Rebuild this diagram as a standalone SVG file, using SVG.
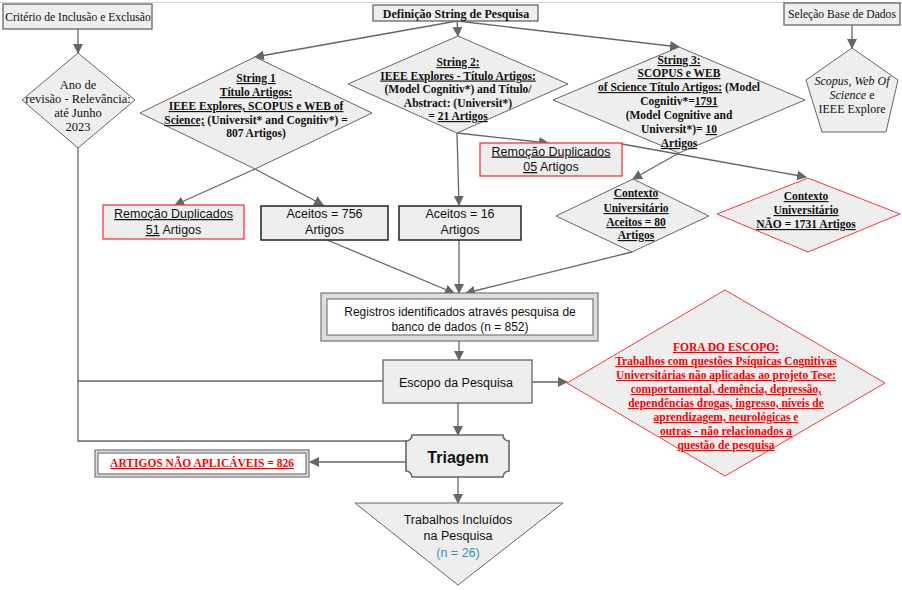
<svg xmlns="http://www.w3.org/2000/svg" width="902" height="590" viewBox="0 0 902 590">
<style>
.box{fill:#eeeeee;stroke:#666;stroke-width:1.3}
.dia{fill:#eeeeee;stroke:#666;stroke-width:1}
.red{fill:#eeeeee;stroke:#f03a3a;stroke-width:1.3}
.blk{fill:#eeeeee;stroke:#222;stroke-width:1.5}
.gry{fill:#dddddd;stroke:#777;stroke-width:1.2}
.wht{fill:#ffffff;stroke:#777;stroke-width:1.2}
.t{font-family:"Liberation Serif","Times New Roman",serif;font-size:12px;fill:#111;text-anchor:middle}
.b{font-weight:bold;font-size:11.5px}
.a{font-family:"Liberation Sans",Arial,sans-serif;font-size:12.5px;fill:#111;text-anchor:middle}
.u{text-decoration:underline}
.rt{fill:#ff0000}
.conn path{stroke:#666;stroke-width:1.3;fill:none}
.conn path.ar{marker-end:url(#arr)}
</style>
<defs>
<marker id="arr" viewBox="0 0 10 10" refX="9" refY="5" markerWidth="10" markerHeight="10" markerUnits="userSpaceOnUse" orient="auto">
<path d="M0,0 L10,5 L0,10 z" fill="#666"/>
</marker>
</defs>
<rect width="902" height="590" fill="#ffffff"/>
<line x1="0" y1="2.5" x2="902" y2="2.5" stroke="#d4d4d4" stroke-width="1"/>

<g class="conn">
<path class="ar" d="M78,29 V53"/>
<path d="M78,148 V441 H407"/>
<path d="M78,381 H383"/>
<path class="ar" d="M457,21 L255,57"/>
<path class="ar" d="M457,21 L458,36"/>
<path class="ar" d="M457,21 L679,47"/>
<path class="ar" d="M852,25 V48"/>
<path class="ar" d="M255,169 L175,205"/>
<path class="ar" d="M255,169 L323,205"/>
<path class="ar" d="M457,133 L459,205"/>
<path class="ar" d="M457,133 L548,143"/>
<path class="ar" d="M679,153 L633,179"/>
<path class="ar" d="M622,144 L806,177"/>
<path class="ar" d="M327,240 L454,293"/>
<path class="ar" d="M459,240 V293"/>
<path class="ar" d="M632,252 L466,293"/>
<path class="ar" d="M459,341 V360"/>
<path class="ar" d="M532,382 H567"/>
<path class="ar" d="M458,403 V435"/>
<path class="ar" d="M406,462 H310"/>
<path class="ar" d="M458,477 V503"/>
</g>

<g id="criterio">
<rect class="box" x="3" y="4" width="149" height="25"/>
<text class="t" x="78" y="21" style="font-size:11.6px">Critério de Inclusão e Exclusão</text>
</g>

<g id="ano">
<polygon class="dia" points="78,53 135,100 78,148 22,100"/>
<text class="t" style="font-size:12.5px"><tspan x="78" y="89">Ano de</tspan><tspan x="78" y="103">revisão - Relevância:</tspan><tspan x="78" y="117">até Junho</tspan><tspan x="78" y="131">2023</tspan></text>
</g>

<g id="definicao">
<rect class="box" x="373" y="5" width="165" height="16"/>
<text class="t" x="456" y="17.5" style="font-weight:bold">Definição String de Pesquisa</text>
</g>

<g id="selecao">
<rect class="box" x="784" y="3" width="116" height="22"/>
<text class="t" x="842" y="18" style="font-size:11.6px">Seleção Base de Dados</text>
</g>

<g id="bases">
<polygon class="dia" points="852,48 898,80 886,132 822,132 806,80"/>
<text class="t"><tspan x="852" y="85" font-style="italic">Scopus, Web Of</tspan><tspan x="852" y="99"><tspan font-style="italic">Science</tspan> e</tspan><tspan x="852" y="113">IEEE Explore</tspan></text>
</g>

<g id="string1">
<polygon class="dia" points="255,57 372,113 255,169 140,113"/>
<text class="t b"><tspan x="256" y="82" class="u">String 1</tspan><tspan x="256" y="96" class="u">Título Artigos:</tspan><tspan x="256" y="110" class="u">IEEE Explores, SCOPUS e WEB of</tspan><tspan x="256" y="124"><tspan class="u">Science;</tspan> (Universit* and Cognitiv*) =</tspan><tspan x="256" y="137">807 Artigos)</tspan></text>
</g>

<g id="string2">
<polygon class="dia" points="458,36 568,84 457,133 348,84"/>
<text class="t b"><tspan x="458" y="66" class="u">String 2:</tspan><tspan x="458" y="79.5" class="u">IEEE Explores - Título Artigos:</tspan><tspan x="458" y="93">(Model Cognitiv*) and Título/</tspan><tspan x="458" y="106.5">Abstract: (Universit*)</tspan><tspan x="458" y="120">= <tspan class="u">21 Artigos</tspan></tspan></text>
</g>

<g id="string3">
<polygon class="dia" points="679,47 805,100 679,153 553,100"/>
<text class="t b"><tspan x="679" y="64" class="u">String 3:</tspan><tspan x="679" y="77" class="u">SCOPUS e WEB</tspan><tspan x="679" y="91"><tspan class="u">of Science Título Artigos:</tspan> (Model</tspan><tspan x="679" y="105">Cognitiv*=<tspan class="u">1791</tspan></tspan><tspan x="679" y="119">(Model Cognitive and</tspan><tspan x="679" y="133">Universit*)= <tspan class="u">10</tspan></tspan><tspan x="679" y="147" class="u">Artigos</tspan></text>
</g>

<g id="remocao51">
<rect class="red" x="103" y="205" width="141" height="34"/>
<text class="a"><tspan x="173.5" y="218" class="u">Remoção Duplicados</tspan><tspan x="173.5" y="234"><tspan class="u">51</tspan> Artigos</tspan></text>
</g>

<g id="aceitos756">
<rect class="blk" x="261" y="206" width="127" height="34"/>
<text class="a"><tspan x="324.5" y="218">Aceitos = 756</tspan><tspan x="324.5" y="234">Artigos</tspan></text>
</g>

<g id="aceitos16">
<rect class="blk" x="399" y="206" width="122" height="34"/>
<text class="a"><tspan x="460" y="218">Aceitos = 16</tspan><tspan x="460" y="234">Artigos</tspan></text>
</g>

<g id="remocao05">
<rect class="red" x="480" y="143" width="142" height="33"/>
<text class="a"><tspan x="551" y="155.5" class="u">Remoção Duplicados</tspan><tspan x="551" y="171"><tspan class="u">05</tspan> Artigos</tspan></text>
</g>

<g id="contexto-aceitos">
<polygon class="dia" points="633,179 709,216 632,252 556,216"/>
<text class="t b u"><tspan x="636" y="197">Contexto</tspan><tspan x="636" y="212">Universitário</tspan><tspan x="636" y="226">Aceitos = 80</tspan><tspan x="636" y="239">Artigos</tspan></text>
</g>

<g id="contexto-nao">
<polygon class="red" style="stroke-width:1" points="808,178 900,214 808,252 717,214"/>
<text class="t b u"><tspan x="806" y="200">Contexto</tspan><tspan x="806" y="214">Universitário</tspan><tspan x="806" y="228">NÃO = 1731 Artigos</tspan></text>
</g>

<g id="registros">
<rect class="gry" x="321" y="293" width="277" height="48"/>
<rect class="wht" x="327" y="299" width="266" height="36"/>
<text class="a" style="font-size:12px"><tspan x="460" y="316">Registros identificados através pesquisa de</tspan><tspan x="460" y="331">banco de dados (n = 852)</tspan></text>
</g>

<g id="escopo">
<rect class="box" x="383" y="360" width="149" height="43"/>
<text class="a" x="456" y="387">Escopo da Pesquisa</text>
</g>

<g id="fora">
<polygon class="red" style="stroke-width:1" points="725,290 885,383 725,476 567,383"/>
<text class="t b u rt"><tspan x="726" y="351">FORA DO ESCOPO:</tspan><tspan x="726" y="365">Trabalhos com questões Psíquicas Cognitivas</tspan><tspan x="726" y="379">Universitárias não aplicadas ao projeto Tese:</tspan><tspan x="726" y="393">comportamental, demência, depressão,</tspan><tspan x="726" y="407">dependências drogas, ingresso, níveis de</tspan><tspan x="726" y="421">aprendizagem, neurológicas e</tspan><tspan x="726" y="435">outras - não relacionados a</tspan><tspan x="726" y="449">questão de pesquisa</tspan></text>
</g>

<g id="triagem">
<path class="box" style="stroke-width:1.6" d="M412,435 H503 A6,6 0 0 0 509,441 V471 A6,6 0 0 0 503,477 H412 A6,6 0 0 0 406,471 V441 A6,6 0 0 0 412,435 Z"/>
<text class="a" x="458" y="463" style="font-size:16px;font-weight:bold">Triagem</text>
</g>

<g id="nao-aplicaveis">
<rect class="gry" x="95" y="450" width="214" height="27"/>
<rect class="wht" x="98" y="453" width="208" height="21"/>
<text class="t b u rt" x="202" y="467">ARTIGOS NÃO APLICÁVEIS = 826</text>
</g>

<g id="incluidos">
<polygon class="dia" points="355,503 563,503 458,585"/>
<text class="a"><tspan x="458" y="524">Trabalhos Incluídos</tspan><tspan x="458" y="540">na Pesquisa</tspan><tspan x="458" y="557" fill="#2a98b0">(n = 26)</tspan></text>
</g>
</svg>
